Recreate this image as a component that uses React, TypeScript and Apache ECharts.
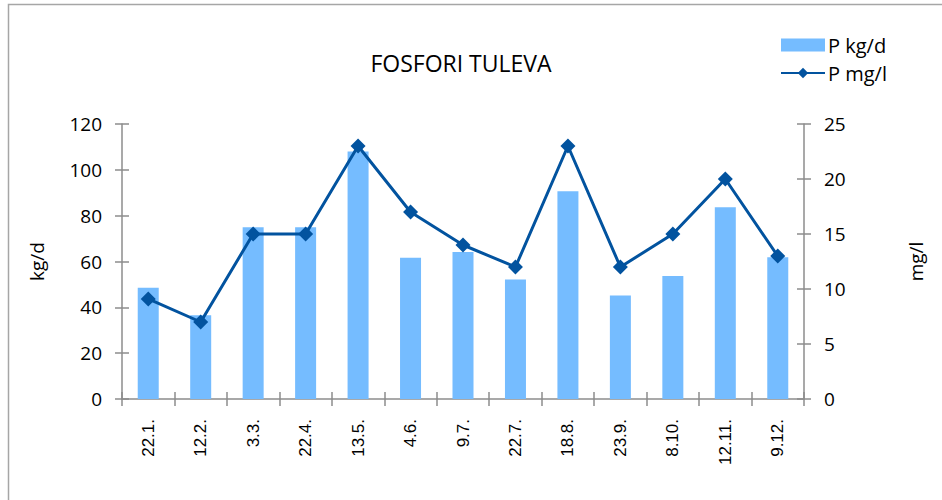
import React, { useEffect, useRef } from "react";
import * as echarts from "echarts";

const categories = ["22.1.", "12.2.", "3.3.", "22.4.", "13.5.", "4.6.", "9.7.", "22.7.", "18.8.", "23.9.", "8.10.", "12.11.", "9.12."];
const pKgD = [48.5, 36.6, 75, 75, 108, 61.6, 64.2, 52.2, 90.7, 45.2, 53.7, 83.7, 61.9];
const pMgL = [9.1, 7, 15, 15, 23, 17, 14, 12, 23, 12, 15, 20, 13];

const FONT = "Open Sans";
const XFONT = "Liberation Sans";
const AXIS = "#8c8c8c";

export default function App() {
  const ref = useRef<HTMLDivElement>(null);
  useEffect(() => {
    if (!ref.current) return;
    const chart = echarts.init(ref.current, null, { renderer: "svg" });
    const baseY = {
      type: "value" as const,
      axisLine: { show: true, lineStyle: { color: AXIS, width: 1.5 } },
      splitLine: { show: false },
    };
    chart.setOption({
      animation: false,
      backgroundColor: "#ffffff",
      textStyle: { fontFamily: FONT },
      title: {
        text: "FOSFORI TULEVA",
        left: 456,
        top: 46,
        textAlign: "center",
        textStyle: { fontFamily: FONT, fontSize: 23, fontWeight: "normal", color: "#000" },
      },
      legend: {
        orient: "vertical",
        left: 775,
        top: 30,
        itemWidth: 44,
        itemHeight: 13,
        itemGap: 8,
        textStyle: { fontFamily: FONT, fontSize: 20, color: "#000", padding: [0, 0, 0, -2] },
        data: [
          { name: "P kg/d", icon: "rect" },
          { name: "P mg/l" },
        ],
      },
      graphic: [
        {
          type: "rect",
          shape: { x: 8.5, y: 4.5, width: 960, height: 520 },
          style: { fill: "none", stroke: "#a6a6a6", lineWidth: 1.5 },
          silent: true,
        },
      ],
      grid: { left: 122, right: 138, top: 124, bottom: 101, containLabel: false },
      xAxis: [
        {
          type: "category",
          data: categories,
          axisLine: { show: true, lineStyle: { color: AXIS, width: 1.5 } },
          axisTick: { show: true, length: 7, lineStyle: { color: AXIS, width: 1.5 } },
          axisLabel: { rotate: 90, margin: 20, fontSize: 17, color: "#000", fontFamily: XFONT },
        },
        {
          type: "category",
          data: categories,
          position: "bottom",
          axisLine: { show: false },
          axisTick: { show: true, inside: true, length: 7, lineStyle: { color: AXIS, width: 1.5 } },
          axisLabel: { show: false },
        },
      ],
      yAxis: [
        {
          ...baseY,
          min: 0,
          max: 120,
          interval: 20,
          position: "left",
          name: "kg/d",
          nameLocation: "middle",
          nameGap: 76,
          nameRotate: 90,
          nameTextStyle: { fontFamily: FONT, fontSize: 19, color: "#000" },
          axisTick: { show: true, length: 7, lineStyle: { color: AXIS, width: 1.5 } },
          axisLabel: { fontSize: 19, color: "#000", margin: 20, fontFamily: FONT },
        },
        {
          ...baseY,
          min: 0,
          max: 25,
          interval: 5,
          position: "right",
          name: "mg/l",
          nameLocation: "middle",
          nameGap: 102,
          nameRotate: 90,
          nameTextStyle: { fontFamily: FONT, fontSize: 19, color: "#000" },
          axisTick: { show: true, length: 7, lineStyle: { color: AXIS, width: 1.5 } },
          axisLabel: { fontSize: 19, color: "#000", margin: 20, fontFamily: FONT },
        },
        {
          ...baseY,
          min: 0,
          max: 120,
          interval: 20,
          position: "left",
          axisLine: { show: false },
          axisTick: { show: true, inside: true, length: 7, lineStyle: { color: AXIS, width: 1.5 } },
          axisLabel: { show: false },
        },
        {
          ...baseY,
          min: 0,
          max: 25,
          interval: 5,
          position: "right",
          axisLine: { show: false },
          axisTick: { show: true, inside: true, length: 7, lineStyle: { color: AXIS, width: 1.5 } },
          axisLabel: { show: false },
        },
      ],
      series: [
        {
          name: "P kg/d",
          type: "bar",
          xAxisIndex: 0,
          yAxisIndex: 0,
          data: pKgD,
          barWidth: 21,
          itemStyle: { color: "#75bcff" },
          z: 2,
        },
        {
          name: "P mg/l",
          type: "line",
          xAxisIndex: 0,
          yAxisIndex: 1,
          data: pMgL,
          symbol: "diamond",
          symbolSize: 15,
          lineStyle: { color: "#02539f", width: 3 },
          itemStyle: { color: "#02539f" },
          z: 3,
        },
      ],
    });
    return () => chart.dispose();
  }, []);
  return (
    <div style={{ position: "absolute", left: 0, top: 0, width: 942, height: 500 }}>
      <div ref={ref} style={{ width: 942, height: 500 }} />
    </div>
  );
}
